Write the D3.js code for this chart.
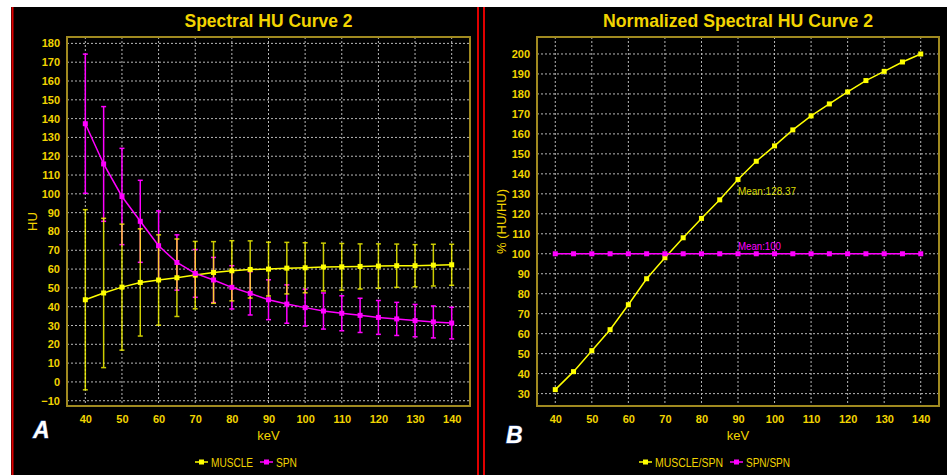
<!DOCTYPE html>
<html><head><meta charset="utf-8">
<script src="https://cdn.jsdelivr.net/npm/d3@7"></script>
<style>body{margin:0;background:#fff;}svg{display:block;}</style>
</head><body>
<svg id="c" width="947" height="475"></svg>
<script>
// ---- data ----
const kev = [40,45,50,55,60,65,70,75,80,85,90,95,100,105,110,115,120,125,130,135,140];
const muscleMean = [43.7,47.3,50.4,52.9,54.2,55.4,56.8,58.2,59.1,59.8,60.0,60.5,60.7,61.1,61.2,61.4,61.6,61.8,61.8,62.1,62.3];
const muscleSD   = [47.9,39.7,33.5,28.5,24.0,20.6,17.9,16.4,16.0,15.2,14.3,13.7,13.3,12.7,12.4,12.0,11.8,11.5,11.2,11.1,10.9];
const spnMean    = [137.3,115.9,98.6,85.4,72.4,63.5,57.7,54.2,50.3,47.1,43.7,41.4,39.5,37.7,36.5,35.4,34.3,33.5,32.6,31.9,31.3];
const spnSD      = [37.0,30.5,25.6,21.8,18.5,14.7,12.7,12.0,11.5,11.5,10.6,10.2,9.8,9.6,9.3,9.1,9.0,8.8,8.6,8.5,8.4];
const muscleSpnPct = [32,41,51.5,62,74.5,87.5,98,108,117.7,127,137.2,146.3,154,162,169,175,181,186.7,191.3,196,200];
const spnSpnPct  = [100,100,100,100,100,100,100,100,100,100,100,100,100,100,100,100,100,100,100,100,100];
const xTicks = [40,50,60,70,80,90,100,110,120,130,140];
const yTicksA = [-10,0,10,20,30,40,50,60,70,80,90,100,110,120,130,140,150,160,170,180];
const yTicksB = [30,40,50,60,70,80,90,100,110,120,130,140,150,160,170,180,190,200];
const titles = ["Spectral HU Curve 2","Normalized Spectral HU Curve 2"];
const legendA = ["MUSCLE","SPN"];
const legendB = ["MUSCLE/SPN","SPN/SPN"];
const meanLabels = ["Mean:128.37","Mean:100"];

const YEL = "#ffff00", MAG = "#ff00ff", TXT = "#f2d400", FRAME = "#a08a20";
const FONT = '"Liberation Sans", Arial, sans-serif';

const svg = d3.select("#c");
svg.append("rect").attr("x",11).attr("y",7).attr("width",936).attr("height",468).attr("fill","#000");
[12.5,478,484].forEach(x=>svg.append("line").attr("x1",x).attr("x2",x).attr("y1",7).attr("y2",475)
  .attr("stroke","#e00000").attr("stroke-width",2));

function panel(o){
  const g = svg.append("g");
  const x = d3.scaleLinear().domain([35,145]).range([o.x0,o.x1]);
  const y = d3.scaleLinear().domain(o.ydom).range([o.y1,o.y0]);
  // grid
  g.selectAll(".gx").data(xTicks).join("line").attr("x1",d=>x(d)).attr("x2",d=>x(d))
    .attr("y1",o.y0).attr("y2",o.y1).attr("stroke","#b8b8b8").attr("stroke-width",1).attr("stroke-dasharray","2,2");
  g.selectAll(".gy").data(o.yticks).join("line").attr("y1",d=>y(d)).attr("y2",d=>y(d))
    .attr("x1",o.x0).attr("x2",o.x1).attr("stroke","#b8b8b8").attr("stroke-width",1).attr("stroke-dasharray","2,2");
  // axes
  const ax = g.append("g").attr("transform",`translate(0,${o.y1})`)
    .call(d3.axisBottom(x).tickValues(xTicks).tickSize(0).tickPadding(9));
  const ay = g.append("g").attr("transform",`translate(${o.x0},0)`)
    .call(d3.axisLeft(y).tickValues(o.yticks).tickSize(0).tickPadding(7));
  [ax,ay].forEach(a=>{a.select(".domain").remove();
    a.selectAll("text").attr("fill",TXT).style("font-family",FONT).style("font-weight","bold").style("font-size","11px");});
  // frame
  g.append("rect").attr("x",o.x0).attr("y",o.y0).attr("width",o.x1-o.x0).attr("height",o.y1-o.y0)
    .attr("fill","none").attr("stroke",FRAME).attr("stroke-width",2);
  // title
  g.append("text").attr("x",(o.x0+o.x1)/2).attr("y",27).attr("text-anchor","middle")
    .attr("textLength",o.titleW).attr("lengthAdjust","spacingAndGlyphs")
    .attr("fill",TXT).style("font-family",FONT).style("font-weight","bold").style("font-size","18.5px").text(o.title);
  // labels
  g.append("text").attr("x",(o.x0+o.x1)/2).attr("y",440).attr("text-anchor","middle")
    .attr("fill",TXT).style("font-family",FONT).style("font-size","13px").text("keV");
  g.append("text").attr("transform",`translate(${o.ylx},${(o.y0+o.y1)/2}) rotate(-90)`).attr("text-anchor","middle")
    .attr("fill",TXT).style("font-family",FONT).style("font-size","13px").text(o.ylabel);
  g.append("text").attr("x",o.letterX).attr("y",o.letterY).attr("fill","#fff")
    .style("font-family",FONT).style("font-weight","bold").style("font-style","italic").style("font-size","23px")
    .style("paint-order","stroke").attr("stroke","#4060a0").attr("stroke-width",1).text(o.letter);
  // legend
  o.legend.forEach((lab,i)=>{
    const lx = o.legX[i], ly = 462;
    g.append("line").attr("x1",lx).attr("x2",lx+13).attr("y1",ly).attr("y2",ly).attr("stroke",o.colors[i]).attr("stroke-width",1.5);
    g.append("rect").attr("x",lx+4).attr("y",ly-2.5).attr("width",5).attr("height",5).attr("fill",o.colors[i]);
    g.append("text").attr("x",lx+16).attr("y",ly+4.5).attr("fill",TXT)
      .attr("textLength",o.legW[i]).attr("lengthAdjust","spacingAndGlyphs")
      .style("font-family",FONT).style("font-size","12.5px").text(lab);
  });
  return {g,x,y};
}

// Panel A
const A = panel({x0:67,x1:470,y0:37,y1:406,ydom:[-12.8,183.4],yticks:yTicksA,title:titles[0],titleW:168,ylabel:"HU",ylx:37,
  letter:"A",letterX:33,letterY:438,legend:legendA,legX:[195,260],legW:[42,21],colors:[YEL,MAG]});
function errBars(P,means,sds,color,op){
  const gg = P.g.append("g").attr("opacity",op);
  kev.forEach((k,i)=>{
    const cx=P.x(k), yt=P.y(means[i]+sds[i]), yb=P.y(means[i]-sds[i]);
    gg.append("line").attr("x1",cx).attr("x2",cx).attr("y1",yt).attr("y2",yb).attr("stroke",color).attr("stroke-width",1.5);
    [yt,yb].forEach(yy=>gg.append("line").attr("x1",cx-2.5).attr("x2",cx+2.5).attr("y1",yy).attr("y2",yy).attr("stroke",color).attr("stroke-width",1.5));
  });
}
errBars(A,spnMean,spnSD,MAG,1);
errBars(A,muscleMean,muscleSD,YEL,0.8);
function series(P,vals,color){
  P.g.append("path").datum(vals).attr("fill","none").attr("stroke",color).attr("stroke-width",1.5)
    .attr("d",d3.line().x((d,i)=>P.x(kev[i])).y(d=>P.y(d)));
  P.g.selectAll(null).data(vals).join("rect").attr("x",(d,i)=>P.x(kev[i])-2.5).attr("y",d=>P.y(d)-2.5)
    .attr("width",5).attr("height",5).attr("fill",color);
}
series(A,muscleMean,YEL);
series(A,spnMean,MAG);

// Panel B
const B = panel({x0:537,x1:939,y0:37,y1:406,ydom:[23.8,208.5],yticks:yTicksB,title:titles[1],titleW:270,ylabel:"% (HU/HU)",ylx:506,
  letter:"B",letterX:506,letterY:443,legend:legendB,legX:[639,730],legW:[68,44],colors:[YEL,MAG]});
series(B,muscleSpnPct,YEL);
series(B,spnSpnPct,MAG);
B.g.append("text").attr("x",B.x(90)).attr("y",195).attr("fill","#d8d800")
  .attr("textLength",58).attr("lengthAdjust","spacingAndGlyphs")
  .style("font-family",FONT).style("font-size","11.5px").text(meanLabels[0]);
B.g.append("text").attr("x",B.x(90)).attr("y",B.y(100)-4).attr("fill",MAG)
  .attr("textLength",43).attr("lengthAdjust","spacingAndGlyphs")
  .style("font-family",FONT).style("font-size","11.5px").text(meanLabels[1]);
</script>
</body></html>
